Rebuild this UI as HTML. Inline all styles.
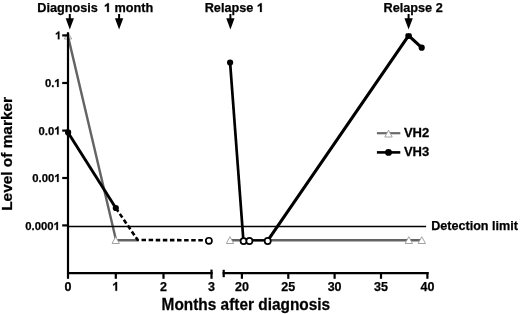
<!DOCTYPE html>
<html>
<head>
<meta charset="utf-8">
<style>
html,body{margin:0;padding:0;background:#fff;width:520px;height:314px;overflow:hidden;}
svg{display:block;will-change:transform;}
text{font-family:"Liberation Sans",sans-serif;font-weight:bold;fill:#000;stroke:#000;stroke-width:0.25px;}
.h{fill-opacity:0;stroke-opacity:0;}
</style>
</head>
<body>
<svg width="520" height="314" viewBox="0 0 520 314">
<defs>
  <path id="one" d="M782 0H501V1059Q347 915 138 846V1101Q248 1137 377 1237Q506 1338 554 1430H782Z" fill="#000" stroke="#000" stroke-width="0.25" vector-effect="non-scaling-stroke"/>
  <polygon id="tri" points="0,-3.6 3.7,3.2 -3.7,3.2" fill="#fff" stroke="#9a9a9a" stroke-width="0.9"/>
  <g id="arrow">
    <rect x="-1" y="14" width="2" height="5" fill="#000"/>
    <polygon points="-4.15,18.2 4.15,18.2 0,29.4" fill="#000"/>
  </g>
</defs>

<!-- top labels -->
<text x="37.3" y="12" font-size="12.7">Diagnosis</text>
<text x="104" y="12" font-size="12.7"><tspan class="h">1</tspan> month</text>
<text x="204.7" y="12" font-size="12.7">Relapse <tspan class="h">1</tspan></text>
<text x="383.5" y="12" font-size="12.7">Relapse 2</text>
<use href="#arrow" x="69.8"/>
<use href="#arrow" x="119.1"/>
<use href="#arrow" x="230.4"/>
<use href="#arrow" x="408.6"/>

<!-- y axis title -->
<text transform="translate(12.2,210.2) rotate(-90) scale(1.07,1)" x="-0.6" y="0" font-size="14.4">Level of marker</text>

<!-- y tick labels -->
<g font-size="11.3" text-anchor="end">
<text x="61.4" y="39.3"><tspan class="h">1</tspan></text>
<text x="60.6" y="86.9">0.<tspan class="h">1</tspan></text>
<text x="60.6" y="134.5">0.0<tspan class="h">1</tspan></text>
<text x="60.6" y="181.9">0.00<tspan class="h">1</tspan></text>
<text x="59.9" y="229.9">0.000<tspan class="h">1</tspan></text>
</g>

<!-- VH2 first segment under axis -->
<use href="#tri" x="68" y="35.8"/>
<polyline points="67.8,35.4 115.4,237.5 115.4,240.2 137.5,240.2" stroke="#646464" stroke-width="2.4" fill="none"/>
<!-- axes -->
<g stroke="#000" stroke-width="2.2" fill="none">
  <line x1="68" y1="32.3" x2="68" y2="278.8"/>
  <line x1="62.2" y1="35.4" x2="68" y2="35.4"/>
  <line x1="62.2" y1="83" x2="68" y2="83"/>
  <line x1="62.2" y1="130.6" x2="68" y2="130.6"/>
  <line x1="62.2" y1="178" x2="68" y2="178"/>
  <line x1="62.2" y1="225.4" x2="68" y2="225.4"/>
  <line x1="67" y1="273.1" x2="212.6" y2="273.1"/>
  <line x1="115.8" y1="273" x2="115.8" y2="278.8"/>
  <line x1="163.5" y1="273" x2="163.5" y2="278.8"/>
  <line x1="211.5" y1="269.6" x2="211.5" y2="278.8"/>
  <line x1="222.6" y1="273.1" x2="428.6" y2="273.1"/>
  <line x1="223.7" y1="269.8" x2="223.7" y2="277.2"/>
  <line x1="241.9" y1="273" x2="241.9" y2="278.8"/>
  <line x1="288.3" y1="273" x2="288.3" y2="278.8"/>
  <line x1="334.6" y1="273" x2="334.6" y2="278.8"/>
  <line x1="381" y1="273" x2="381" y2="278.8"/>
  <line x1="427.4" y1="272" x2="427.4" y2="278.8"/>
</g>

<!-- x tick labels -->
<g font-size="12.5" text-anchor="middle">
<text x="68" y="290.8">0</text>
<text x="115.8" y="290.8"><tspan class="h">1</tspan></text>
<text x="163.5" y="290.8">2</text>
<text x="211.5" y="290.8">3</text>
<text x="241.9" y="290.8">20</text>
<text x="288.3" y="290.8">25</text>
<text x="334.6" y="290.8">30</text>
<text x="381" y="290.8">35</text>
<text x="427.4" y="290.8">40</text>
</g>
<text transform="translate(161.6,310) scale(0.975,1)" font-size="15.8">Months after diagnosis</text>

<!-- detection limit -->
<line x1="68" y1="226.5" x2="426.1" y2="226.5" stroke="#000" stroke-width="1.6"/>
<text x="431.2" y="230.1" font-size="12.6">Detection limit</text>

<!-- VH2 gray -->
<g stroke="#646464" stroke-width="2.4" fill="none">
  <polyline points="230,240.2 421.8,240.2"/>
</g>
<use href="#tri" x="115.7" y="240.3"/>
<use href="#tri" x="230" y="240.3"/>
<use href="#tri" x="408.8" y="240.3"/>
<use href="#tri" x="421.8" y="240.3"/>

<!-- VH3 black -->
<g stroke="#000" stroke-width="2.9" fill="none">
  <polyline points="68,132.4 115.8,208"/>
  <polyline points="115.8,208 137.7,240 208.5,240.3" stroke-dasharray="4.5,2.6" stroke-width="2.6"/>
  <polyline points="230.1,62.6 243.4,240.5" stroke-width="2.7"/>
  <polyline points="249.5,240.3 267.7,240.3" stroke-width="2.2"/>
  <polyline points="267.7,240.6 408.6,35.6 421.7,47.7" stroke-width="3.1"/>
</g>
<g fill="#000">
  <circle cx="68.1" cy="132.4" r="3.1"/>
  <circle cx="115.8" cy="208" r="3.1"/>
  <circle cx="230.1" cy="62.6" r="3.1"/>
  <circle cx="421.7" cy="47.7" r="3.1"/>
</g>
<g fill="#fff" stroke="#000" stroke-width="1.7">
  <circle cx="208.9" cy="240.8" r="3.05"/>
  <circle cx="243.6" cy="241.1" r="3.05"/>
  <circle cx="249.4" cy="241" r="3.05"/>
  <circle cx="267.7" cy="241" r="3.05"/>
</g>

<clipPath id="topclip"><rect x="0" y="33.2" width="520" height="300"/></clipPath>
<circle cx="408.6" cy="35.8" r="3.3" fill="#000" clip-path="url(#topclip)"/>
<!-- legend -->
<line x1="376.9" y1="133.2" x2="400.3" y2="133.2" stroke="#6a6a6a" stroke-width="2.2"/>
<use href="#tri" x="388.5" y="133.8"/>
<line x1="376.9" y1="152.4" x2="400.3" y2="152.4" stroke="#000" stroke-width="2.6"/>
<circle cx="388.5" cy="152.4" r="3.4" fill="#000"/>
<text transform="translate(403.9,137) scale(1.06,1)" font-size="12.3">VH2</text>
<text transform="translate(403.9,155.5) scale(1.06,1)" font-size="12.3">VH3</text>
<!--ONES-->
<use href="#one" transform="translate(104.00,12.00) scale(0.006201,-0.006201)"/>
<use href="#one" transform="translate(256.89,12.00) scale(0.006201,-0.006201)"/>
<use href="#one" transform="translate(55.10,39.30) scale(0.005518,-0.005518)"/>
<use href="#one" transform="translate(54.30,86.90) scale(0.005518,-0.005518)"/>
<use href="#one" transform="translate(54.30,134.50) scale(0.005518,-0.005518)"/>
<use href="#one" transform="translate(54.30,181.90) scale(0.005518,-0.005518)"/>
<use href="#one" transform="translate(53.60,229.90) scale(0.005518,-0.005518)"/>
<use href="#one" transform="translate(112.32,290.80) scale(0.006104,-0.006104)"/>
<!--/ONES-->

</svg>
</body>
</html>
